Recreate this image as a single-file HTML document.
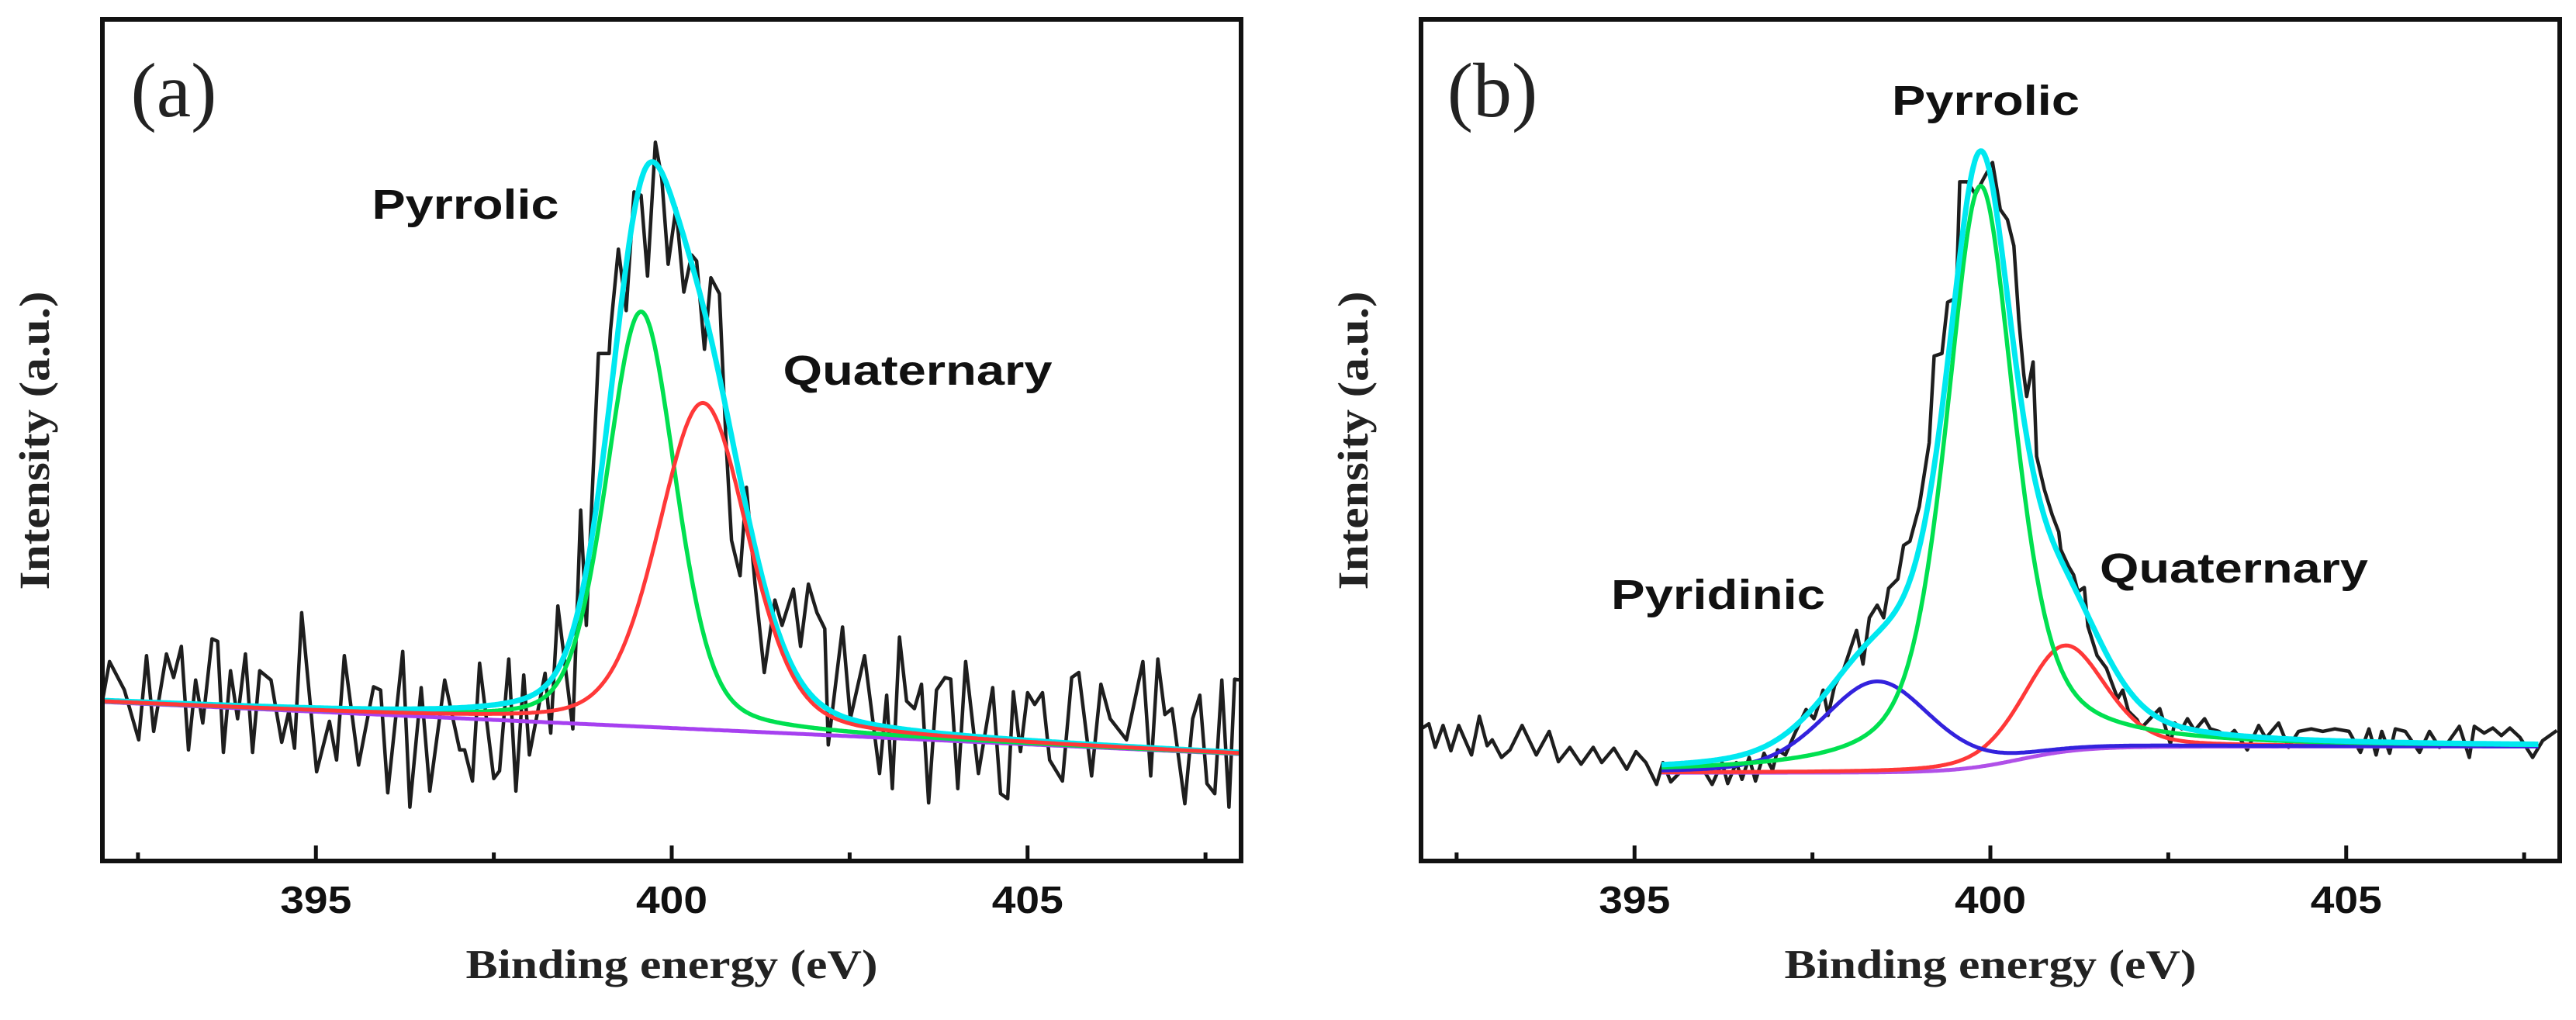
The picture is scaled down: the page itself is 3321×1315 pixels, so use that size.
<!DOCTYPE html>
<html><head><meta charset="utf-8"><title>XPS N1s spectra</title>
<style>
html,body{margin:0;padding:0;background:#fff;}
svg{display:block;}
.tick{font-family:"Liberation Sans",Arial,sans-serif;font-weight:bold;font-size:49px;fill:#111;}
.axt{font-family:"Liberation Serif","Times New Roman",serif;font-weight:bold;font-size:53px;fill:#222;}
.ann{font-family:"Liberation Sans",Arial,sans-serif;font-weight:bold;font-size:54px;fill:#111;}
.pl{font-family:"Liberation Serif","Times New Roman",serif;font-size:100px;fill:#222;}
</style></head>
<body>
<svg id="fig" width="3321" height="1315" viewBox="0 0 3321 1315" xmlns="http://www.w3.org/2000/svg">
<rect width="3321" height="1315" fill="#fff"/>
<g id="pa"></g>
<g id="pb"></g>
</svg>
<script>
// ---- axis data ----
const xMin = 392, xMax = 408;
const majorTicks = [395, 400, 405];
const minorTicks = [392.5, 397.5, 402.5, 407.5];

// ---- panel (a) measured spectrum ----
const aEnergy = [392.00,392.10,392.31,392.51,392.62,392.72,392.90,393.00,393.11,393.21,393.31,393.41,393.54,393.62,393.70,393.80,393.90,394.01,394.11,394.21,394.37,394.52,394.62,394.70,394.80,395.01,395.19,395.29,395.40,395.60,395.81,395.91,396.01,396.22,396.32,396.48,396.60,396.81,397.02,397.09,397.20,397.30,397.50,397.58,397.71,397.81,397.92,398.00,398.22,398.30,398.40,398.61,398.72,398.80,398.97,399.12,399.14,399.25,399.36,399.47,399.57,399.66,399.77,399.86,399.95,400.06,400.17,400.28,400.35,400.46,400.55,400.67,400.76,400.84,400.96,401.05,401.17,401.30,401.45,401.55,401.71,401.81,401.92,402.04,402.15,402.20,402.40,402.51,402.71,402.92,403.02,403.10,403.20,403.30,403.41,403.51,403.61,403.72,403.84,403.92,404.02,404.13,404.31,404.51,404.62,404.72,404.80,404.90,405.00,405.10,405.21,405.31,405.49,405.62,405.72,405.90,406.03,406.16,406.39,406.62,406.73,406.83,406.93,407.03,407.21,407.32,407.42,407.52,407.63,407.73,407.83,407.91,407.99];
const aCounts = [19.0,23.7,20.3,14.4,24.4,15.4,24.6,21.8,25.5,13.2,21.5,16.4,26.4,26.1,12.9,22.6,16.9,24.6,12.9,22.6,21.5,14.1,17.8,13.4,29.5,10.6,16.6,12.0,24.4,11.4,20.7,20.3,8.1,24.9,6.4,20.6,8.3,21.5,13.2,13.2,9.5,23.5,9.8,10.7,24.0,8.3,22.1,12.6,22.3,15.2,30.3,15.7,41.7,28.0,60.3,60.3,63.1,72.7,65.4,79.5,79.1,69.5,85.4,81.1,70.9,77.6,67.6,72.0,71.3,60.8,69.3,67.4,50.4,38.1,33.9,44.4,33.0,22.4,31.0,28.0,32.3,25.5,32.9,29.5,27.6,13.8,27.8,16.9,24.4,10.4,19.7,8.6,26.6,19.0,18.1,21.0,6.9,20.3,21.8,21.6,8.6,23.7,10.4,20.6,8.0,7.4,20.1,13.0,20.0,18.6,20.0,12.0,9.5,21.8,22.4,10.1,21.0,16.9,14.4,23.7,10.1,24.0,17.4,18.1,6.8,16.9,19.7,9.2,8.0,21.5,6.4,21.6,21.5];
// panel (a) fit: linear background [start, end], peaks [center, amplitude, fwhm, lorentz-fraction]
const aBackground = [18.9, 12.7];
const aPyrrolic = [399.57, 49.3, 1.15, 0.3];
const aQuaternary = [400.44, 38.8, 1.5, 0.3];
const aFitRange = [392, 408];

// ---- panel (b) measured spectrum ----
const bEnergy = [392.00,392.11,392.20,392.31,392.42,392.53,392.71,392.82,392.93,393.00,393.13,393.25,393.42,393.62,393.80,393.93,394.09,394.25,394.42,394.54,394.71,394.89,395.02,395.16,395.31,395.40,395.51,395.67,395.91,396.09,396.23,396.31,396.43,396.51,396.61,396.70,396.82,396.94,397.01,397.12,397.25,397.41,397.52,397.54,397.65,397.72,397.81,397.94,398.12,398.21,398.30,398.41,398.50,398.57,398.70,398.78,398.87,399.00,399.14,399.21,399.32,399.40,399.52,399.57,399.68,399.79,399.90,400.03,400.14,400.24,400.33,400.40,400.47,400.51,400.60,400.65,400.76,400.87,400.96,400.99,401.10,401.17,401.23,401.32,401.37,401.50,401.63,401.70,401.79,401.86,401.94,402.06,402.12,402.38,402.53,402.59,402.69,402.77,402.87,403.01,403.09,403.21,403.33,403.43,403.61,403.77,403.87,404.05,404.19,404.33,404.51,404.67,404.84,405.04,405.20,405.32,405.42,405.50,405.61,405.69,405.83,406.03,406.17,406.31,406.43,406.59,406.73,406.80,406.94,407.06,407.18,407.30,407.44,407.62,407.76,407.96];
const bCounts = [15.7,16.3,13.5,16.1,13.1,16.1,12.6,17.2,13.7,14.4,12.3,13.2,16.1,12.6,15.4,11.8,13.5,11.5,13.5,11.7,13.4,10.9,13.0,11.7,9.1,11.7,9.4,10.8,11.7,9.1,11.7,9.2,11.7,9.7,12.3,9.5,12.8,10.8,13.2,12.6,15.1,18.0,16.9,17.3,20.3,17.3,20.8,22.8,27.4,23.4,28.9,30.4,28.9,32.4,33.5,37.5,38.0,42.1,49.7,60.0,60.3,66.4,66.9,80.7,80.7,79.2,81.0,83.0,77.4,76.2,73.1,64.3,57.8,55.2,59.3,48.1,44.1,41.1,39.1,37.0,35.0,34.0,32.0,32.5,27.9,24.4,22.9,21.3,19.3,20.3,17.8,16.8,15.8,18.1,13.9,16.4,15.7,16.9,15.5,16.9,15.7,15.4,14.7,15.5,13.2,16.1,14.6,16.4,13.5,15.4,15.7,15.4,15.7,15.4,12.9,15.7,12.6,15.4,12.8,15.7,15.4,12.9,15.4,13.5,14.1,16.0,12.3,16.0,15.2,15.8,14.9,15.8,14.7,12.3,14.3,15.5];
// panel (b) fit: step background [low, high, center, width], peaks [center, amplitude, fwhm, lorentz-fraction]
const bBackground = [10.5, 13.6, 400.4, 0.45];
const bPyridinic = [398.41, 10.8, 1.8, 0.3];
const bPyrrolic = [399.86, 69.0, 1.15, 0.55];
const bQuaternary = [401.04, 12.6, 1.35, 0.3];
const bFitRange = [395.38, 407.7];

// ---- geometry ----
const PLOT_TOP = 25, PLOT_BOTTOM = 1110, PLOT_W = 1468;
const Y_MAX = 100;
const NS = 'http://www.w3.org/2000/svg';

function xScale(e, left) { return left + (e - xMin) / (xMax - xMin) * PLOT_W; }
function yScale(v) { return PLOT_BOTTOM - v / Y_MAX * (PLOT_BOTTOM - PLOT_TOP); }

function pv(x, p) {
  const d = (x - p[0]) / p[2];
  const g = Math.exp(-4 * Math.LN2 * d * d);
  const l = 1 / (1 + 4 * d * d);
  return p[1] * (p[3] * l + (1 - p[3]) * g);
}
function linBg(x) { return aBackground[0] + (aBackground[1] - aBackground[0]) * (x - xMin) / (xMax - xMin); }
function stepBg(x) { return bBackground[0] + (bBackground[1] - bBackground[0]) / (1 + Math.exp(-(x - bBackground[2]) / bBackground[3])); }

function mk(tag, attrs, parent) {
  const el = document.createElementNS(NS, tag);
  for (const k in attrs) el.setAttribute(k, attrs[k]);
  parent.appendChild(el);
  return el;
}
function pathFromPoints(pts) {
  return pts.map((p, i) => (i ? 'L' : 'M') + p[0].toFixed(1) + ' ' + p[1].toFixed(1)).join(' ');
}
function curve(g, left, range, fn, color, w, name) {
  const pts = [];
  for (let e = range[0]; e <= range[1] + 1e-9; e += 0.02) pts.push([xScale(e, left), yScale(fn(e))]);
  const p = mk('path', { d: pathFromPoints(pts), fill: 'none', stroke: color, 'stroke-width': w, 'stroke-linejoin': 'round' }, g);
  
  
}
function dataLine(g, left, es, vs, name) {
  const pts = es.map((e, i) => [xScale(e, left), yScale(vs[i])]);
  const p = mk('path', { d: pathFromPoints(pts), fill: 'none', stroke: '#1e1e1e', 'stroke-width': 4.5, 'stroke-linejoin': 'round' }, g);
  
  
}
function text(g, str, x, y, cls, len, name, extra) {
  const t = mk('text', Object.assign({ x: x, y: y, class: cls, 'text-anchor': 'middle' }, extra || {}), g);
  if (len) { t.setAttribute('textLength', len); t.setAttribute('lengthAdjust', 'spacingAndGlyphs'); }
  t.textContent = str;
  
  
  return t;
}
function axes(g, left, tag) {
  majorTicks.forEach(v => {
    const x = xScale(v, left);
    const t = mk('line', { x1: x, x2: x, y1: PLOT_BOTTOM, y2: PLOT_BOTTOM - 20, stroke: '#111', 'stroke-width': 5 }, g);
    
    
    text(g, String(v), x, 1177, 'tick', 92, 'x-tick-label-' + v);
  });
  minorTicks.forEach(v => {
    const x = xScale(v, left);
    const t = mk('line', { x1: x, x2: x, y1: PLOT_BOTTOM, y2: PLOT_BOTTOM - 11, stroke: '#111', 'stroke-width': 5 }, g);
    
    
  });
  const f = mk('rect', { x: left, y: PLOT_TOP, width: PLOT_W, height: PLOT_BOTTOM - PLOT_TOP, fill: 'none', stroke: '#111', 'stroke-width': 6 }, g);
  
  
  text(g, 'Binding energy (eV)', left + 734, 1261, 'axt', 531, 'x-axis-title');
  const yl = text(g, 'Intensity (a.u.)', 0, 0, 'axt', 385, 'y-axis-title', { transform: 'translate(' + (left - 69) + ',568) rotate(-90)' });
  yl.style.fontSize = '55px';
  text(g, '(' + tag + ')', left + 92, 150, 'pl', 0, 'panel-label-' + tag);
}

// ---- panel a ----
const ga = document.getElementById('pa');
const LA = 132;
dataLine(ga, LA, aEnergy, aCounts, 'measured-spectrum-a');
curve(ga, LA, aFitRange, linBg, '#a640f0', 5, 'background-a');
curve(ga, LA, aFitRange, e => linBg(e) + pv(e, aPyrrolic), '#00e050', 5.5, 'pyrrolic-peak-a');
curve(ga, LA, aFitRange, e => linBg(e) + pv(e, aPyrrolic) + pv(e, aQuaternary), '#00e8f0', 7, 'envelope-fit-a');
curve(ga, LA, aFitRange, e => linBg(e) + pv(e, aQuaternary), '#ff3838', 5, 'quaternary-peak-a');
axes(ga, LA, 'a');
text(ga, 'Pyrrolic', 600, 282, 'ann', 241, 'label-pyrrolic-a');
text(ga, 'Quaternary', 1183, 496, 'ann', 347, 'label-quaternary-a');

// ---- panel b ----
const gb = document.getElementById('pb');
const LB = 1832;
dataLine(gb, LB, bEnergy, bCounts, 'measured-spectrum-b');
curve(gb, LB, bFitRange, stepBg, '#b050e8', 5, 'background-b');
curve(gb, LB, bFitRange, e => stepBg(e) + pv(e, bQuaternary), '#ff3838', 5, 'quaternary-peak-b');
curve(gb, LB, bFitRange, e => stepBg(e) + pv(e, bPyridinic), '#3322dd', 5, 'pyridinic-peak-b');
curve(gb, LB, bFitRange, e => stepBg(e) + pv(e, bPyrrolic), '#00e050', 5.5, 'pyrrolic-peak-b');
curve(gb, LB, bFitRange, e => stepBg(e) + pv(e, bPyridinic) + pv(e, bPyrrolic) + pv(e, bQuaternary), '#00e8f0', 7, 'envelope-fit-b');
axes(gb, LB, 'b');
text(gb, 'Pyrrolic', 2560, 148, 'ann', 242, 'label-pyrrolic-b');
text(gb, 'Pyridinic', 2215, 785, 'ann', 276, 'label-pyridinic-b');
text(gb, 'Quaternary', 2880, 751, 'ann', 346, 'label-quaternary-b');
</script>
</body></html>
